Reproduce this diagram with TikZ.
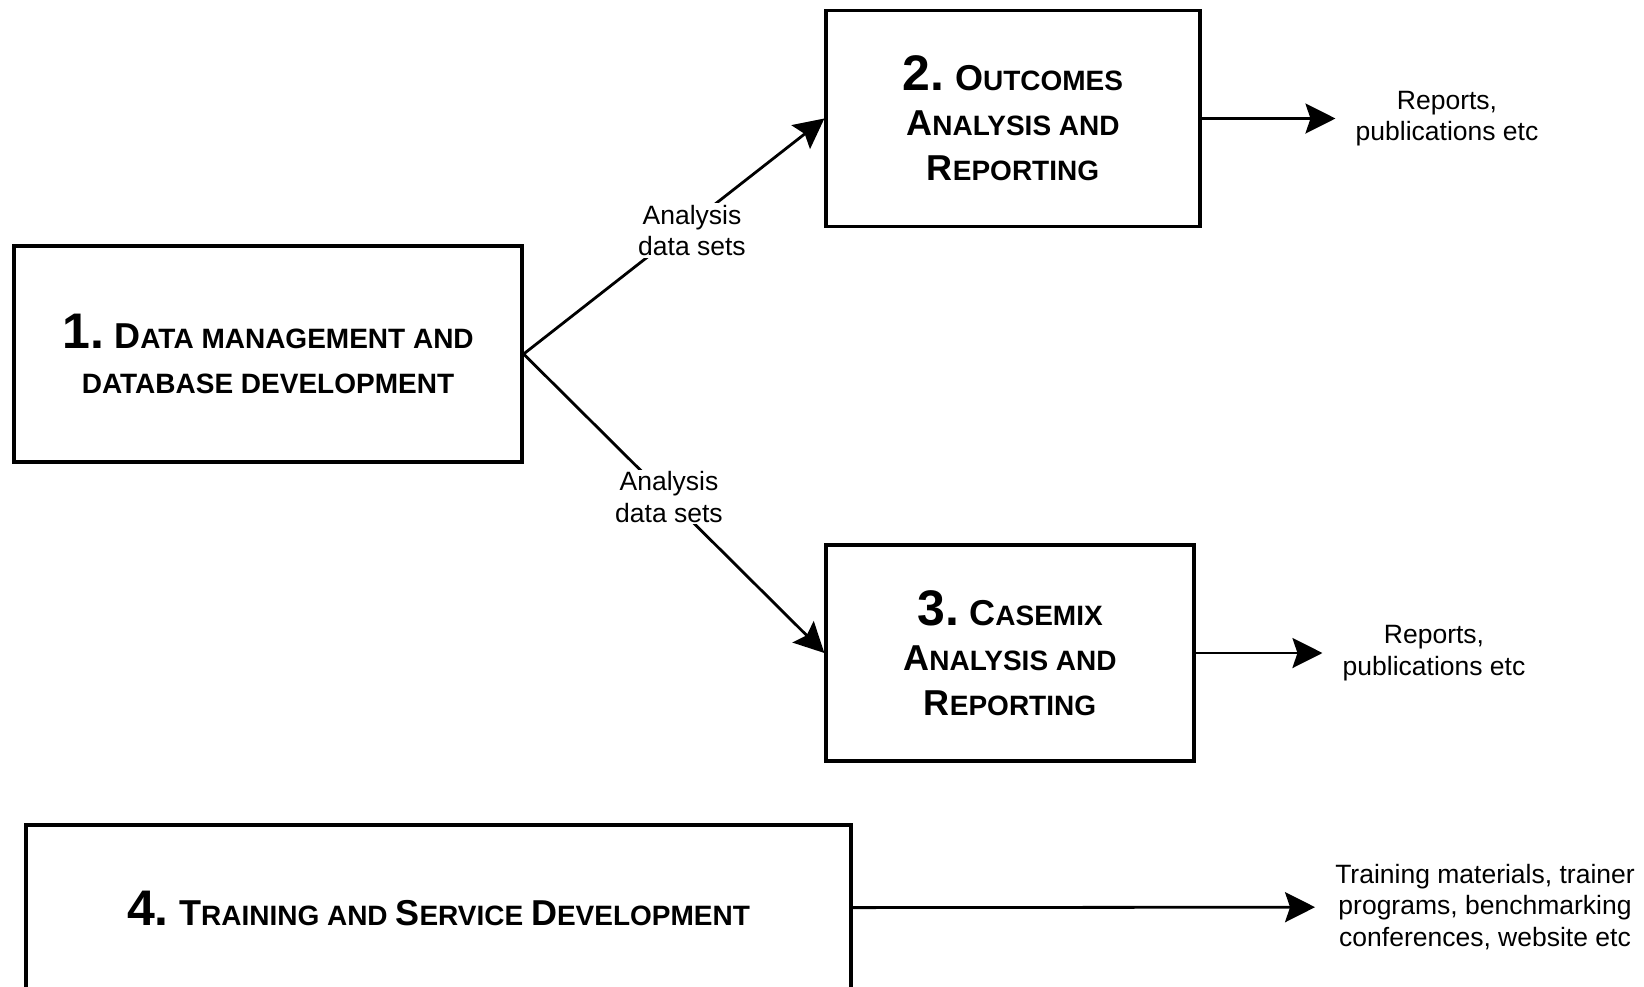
\documentclass[tikz,border=0pt]{standalone}
\usepackage{fontspec}
\setmainfont{Liberation Sans}
\usetikzlibrary{arrows.meta}

\newcommand{\numsz}[1]{{\fontsize{50}{45}\selectfont #1}}
\newcommand{\capsz}[1]{{\fontsize{36}{45}\selectfont #1}}

\begin{document}
\begin{tikzpicture}[x=1pt,y=-1pt,
  box/.style={draw,line width=3.2pt,align=center,minimum height=216pt,
    font=\bfseries\fontsize{28}{45}\selectfont},
  result/.style={align=center,inner xsep=20pt,font=\fontsize{26.5}{31.5}\selectfont},
  lbl/.style={align=center,fill=white,inner sep=2pt,font=\fontsize{26.5}{31.5}\selectfont},
  arr/.style={line width=2.8pt,-{Stealth[length=30pt,width=30pt,inset=5pt]}}]
  \clip (0,0) rectangle (1644,986);

  \node[box,minimum width=508pt] (1) at (268,354) {\numsz{1.} \capsz{D}ATA MANAGEMENT AND\\DATABASE DEVELOPMENT};

  \node[box,minimum width=374pt] (2) at (1013,118.5) {\numsz{2.} \capsz{O}UTCOMES\\\capsz{A}NALYSIS AND\\\capsz{R}EPORTING};
  \node[box,minimum width=368pt] (3) at (1010,653) {\numsz{3.} \capsz{C}ASEMIX\\\capsz{A}NALYSIS AND\\\capsz{R}EPORTING};

  \node[box,minimum width=825pt,minimum height=166pt] (4) at (438.5,908) {\numsz{4.} \capsz{T}RAINING AND \capsz{S}ERVICE \capsz{D}EVELOPMENT};

  \node[result] (out2) at (1447,118.5) {Reports,\\publications etc};
  \node[result] (out3) at (1434,653) {Reports,\\publications etc};
  \node[result] (out4) at (1485,907) {Training materials, trainer\\programs, benchmarking\\conferences, website etc};

  \draw[arr] (1.east) -- (2.west);
  \draw[arr] (1.east) -- (3.west);

  \draw[arr] (2) -- (out2);
  \draw[arr] (3) -- (out3);
  \draw[arr] (4) -- (out4);

  \node[lbl] (l12) at (692,230.5) {Analysis\\data sets};
  \node[lbl] (l13) at (669,497) {Analysis\\data sets};
\end{tikzpicture}
\end{document}
